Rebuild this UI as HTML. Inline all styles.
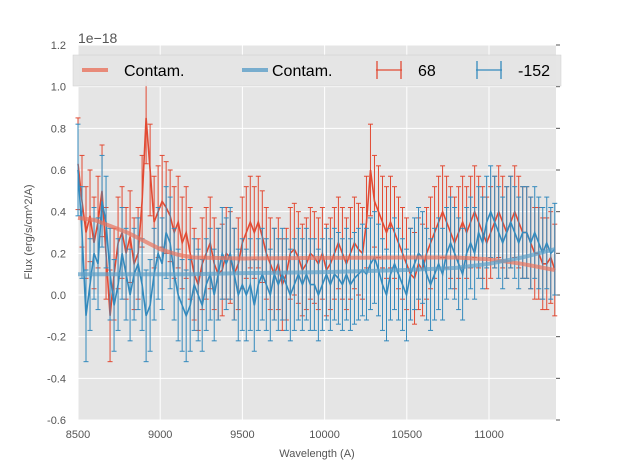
<!DOCTYPE html>
<html><head><meta charset="utf-8"><style>
body{margin:0;background:#fff;font-family:"Liberation Sans",sans-serif}
svg text{font-family:"Liberation Sans",sans-serif}
</style></head><body>
<svg id="c" width="617" height="467" xmlns="http://www.w3.org/2000/svg"></svg>
<script>
const redVals=[0.63,0.45,0.3,0.38,0.25,0.35,0.5,0.2,-0.1,0.1,0.25,0.3,0.2,0.28,0.15,0.2,0.45,0.85,0.6,0.35,0.4,0.45,0.42,0.38,0.3,0.35,0.25,0.3,0.2,0.1,0.05,0.15,0.2,0.25,0.15,0.1,0.12,0.2,0.18,0.1,0.15,0.25,0.3,0.35,0.3,0.35,0.28,0.2,0.15,0.1,0.15,0.05,0.1,0.2,0.22,0.18,0.12,0.15,0.2,0.18,0.15,0.2,0.12,0.15,0.2,0.25,0.2,0.15,0.2,0.25,0.22,0.2,0.35,0.6,0.45,0.4,0.35,0.3,0.35,0.3,0.25,0.2,0.15,0.1,0.08,0.15,0.12,0.2,0.25,0.3,0.35,0.4,0.35,0.3,0.25,0.3,0.35,0.3,0.35,0.4,0.35,0.3,0.25,0.3,0.35,0.4,0.35,0.3,0.35,0.4,0.35,0.3,0.3,0.25,0.2,0.2,0.15,0.15,0.18,0.12];
const blueVals=[0.6,0.3,-0.1,0.05,0.2,0.15,0.45,0.35,0.1,-0.05,0.05,0.2,0.1,0.0,0.1,0.15,0.05,-0.1,-0.05,0.1,0.2,0.15,0.3,0.25,0.1,0.0,-0.05,-0.1,-0.05,0.05,0.0,-0.05,0.05,0.1,0.0,0.1,0.2,0.15,0.2,0.1,0.0,0.05,0.0,0.05,-0.05,0.05,0.1,0.05,0.0,0.1,0.05,0.1,0.05,0.0,0.05,0.1,0.05,0.1,0.05,0.05,0.0,0.05,0.1,0.05,0.1,0.08,0.05,0.1,0.05,0.08,0.1,0.12,0.1,0.15,0.18,0.12,0.05,0.0,0.1,0.15,0.1,0.05,0.0,0.1,0.15,0.2,0.18,0.1,0.05,0.1,0.15,0.1,0.2,0.25,0.2,0.15,0.1,0.2,0.25,0.2,0.3,0.25,0.35,0.4,0.35,0.3,0.25,0.3,0.35,0.3,0.25,0.3,0.3,0.25,0.3,0.25,0.2,0.25,0.2,0.22];
const waveStart=8500, waveEnd=11400;
const redErr=0.22, blueErr=0.22;
const contamX=[8500,8600,8700,8800,8900,9000,9100,9200,9500,10000,10500,10800,11000,11200,11400];
const redContam=[0.37,0.36,0.33,0.30,0.26,0.22,0.195,0.18,0.175,0.178,0.18,0.18,0.172,0.15,0.12];
const blueContam=[0.10,0.10,0.10,0.10,0.10,0.10,0.10,0.10,0.105,0.11,0.12,0.13,0.15,0.18,0.22];
const xTicks=[8500,9000,9500,10000,10500,11000];
const yTicks=[-0.6,-0.4,-0.2,0.0,0.2,0.4,0.6,0.8,1.0,1.2];

const svg=document.getElementById('c');const NS='http://www.w3.org/2000/svg';
const L=78,R=556,T=45,B=420;
const X=v=>L+(v-8500)*(411/2500);
const Y=v=>B-(v+0.6)*(B-T)/1.8;
function el(t,a,p){const e=document.createElementNS(NS,t);for(const k in a)e.setAttribute(k,a[k]);(p||svg).appendChild(e);return e;}
const bg=el('rect',{x:L,y:T,width:R-L,height:B-T,fill:'#e5e5e5'});


xTicks.forEach(t=>{const g=el('line',{x1:X(t),x2:X(t),y1:T,y2:B,stroke:'#fff','stroke-width':1});


const tx=el('text',{x:X(t),y:438,'font-size':11,fill:'#555','text-anchor':'middle'});tx.textContent=t;

});
yTicks.forEach(t=>{const g=el('line',{x1:L,x2:R,y1:Y(t),y2:Y(t),stroke:'#fff','stroke-width':1});


el('line',{x1:R,x2:R+4,y1:Y(t),y2:Y(t),stroke:'#555','stroke-width':1});
const tx=el('text',{x:L-12,y:Y(t)+4,'font-size':11,fill:'#555','text-anchor':'end'});tx.textContent=t.toFixed(1);

});
function series(vals,err,color,name){
 const n=vals.length,step=(waveEnd-waveStart)/(n-1);
 const g=el('g',{});
 
 
 let d='';
 vals.forEach((v,i)=>{const x=X(waveStart+i*step);
  el('line',{x1:x,x2:x,y1:Y(v-err),y2:Y(v+err),stroke:color,'stroke-width':1},g);
  el('line',{x1:x-2.5,x2:x+2.5,y1:Y(v-err),y2:Y(v-err),stroke:color,'stroke-width':1},g);
  el('line',{x1:x-2.5,x2:x+2.5,y1:Y(v+err),y2:Y(v+err),stroke:color,'stroke-width':1},g);
  d+=(i?'L':'M')+x.toFixed(1)+','+Y(v).toFixed(1);});
 el('path',{d:d,fill:'none',stroke:color,'stroke-width':1.6},g);
}
function contam(vals,color,name){let d='';contamX.forEach((x,i)=>{d+=(i?'L':'M')+X(x).toFixed(1)+','+Y(vals[i]).toFixed(1);});
 const p=el('path',{d:d,fill:'none',stroke:color,'stroke-width':4,'stroke-opacity':0.7,'stroke-linejoin':'round'});
 
 }
series(redVals,redErr,'#e24a33','series-68');
series(blueVals,blueErr,'#348abd','series-minus-152');
contam(redContam,'#e8735e','contam-line-red');
contam(blueContam,'#5d9fc8','contam-line-blue');
const lg=el('g',{});


el('rect',{x:73,y:55,width:488,height:31,fill:'#e5e5e5',stroke:'#ccc','stroke-width':0.5,opacity:0.95},lg);
el('line',{x1:82,x2:108,y1:70,y2:70,stroke:'#e8735e','stroke-width':4,'stroke-opacity':0.8},lg);
el('line',{x1:242,x2:268,y1:70,y2:70,stroke:'#5d9fc8','stroke-width':4,'stroke-opacity':0.8},lg);
[[376,'#e24a33'],[476,'#348abd']].forEach(([x,c])=>{el('line',{x1:x,x2:x+26,y1:70,y2:70,stroke:c,'stroke-width':1.3},lg);
 el('line',{x1:x+1,x2:x+1,y1:61,y2:79,stroke:c,'stroke-width':1.3},lg);
 el('line',{x1:x+25,x2:x+25,y1:61,y2:79,stroke:c,'stroke-width':1.3},lg);});
[[124,'Contam.'],[272,'Contam.'],[418,'68'],[518,'-152']].forEach(([x,s])=>{const t=el('text',{x:x,y:76,'font-size':16,fill:'#000'},lg);t.textContent=s;
 
 });
const off=el('text',{x:78,y:43,'font-size':14,fill:'#555'});off.textContent='1e\u221218';


const xl=el('text',{x:317,y:457,'font-size':11,fill:'#555','text-anchor':'middle'});xl.textContent='Wavelength (A)';


const yl=el('text',{x:32,y:232,'font-size':11,fill:'#555','text-anchor':'middle',transform:'rotate(-90 32 232)'});yl.textContent='Flux (erg/s/cm^2/A)';


</script>
</body></html>
